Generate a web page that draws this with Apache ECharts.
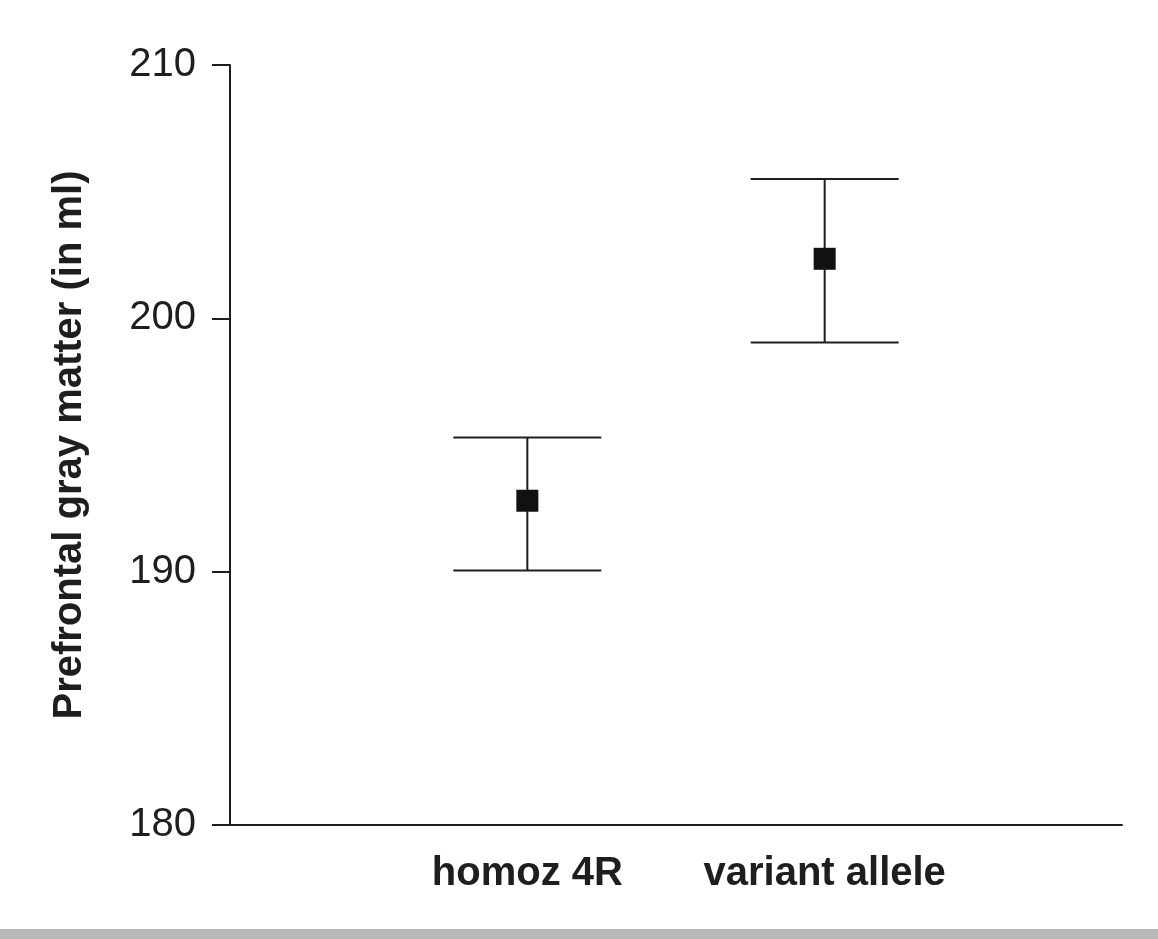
<!DOCTYPE html>
<html>
<head>
<meta charset="utf-8">
<script src="https://cdn.jsdelivr.net/npm/echarts@6/dist/echarts.min.js"></script>
<style>
  html, body { margin: 0; padding: 0; background: #ffffff; }
  #chart { width: 1158px; height: 939px; }
</style>
</head>
<body>
<div id="chart"></div>
<script>
// Group labels and summary statistics (ml)
const categories = ['homoz 4R', 'variant allele'];
const means = [192.8, 202.35];
const upper = [195.3, 205.5];
const lower = [190.05, 199.05];
const yTicks = [180, 190, 200, 210];

const FONT = '"Liberation Sans", Arial, Helvetica, sans-serif';
const INK = '#1e1e1e';

// Padding slots on both sides keep the two groups at 1/3 and 2/3 of the axis
const axisCats = [''].concat(categories, ['']);

const chart = echarts.init(document.getElementById('chart'), null, { renderer: 'canvas' });

const errData = categories.map((c, i) => [c, lower[i], upper[i]]);
const meanData = categories.map((c, i) => [c, means[i]]);

chart.setOption({
  backgroundColor: '#ffffff',
  animation: false,
  grid: { left: 230, right: 36, top: 65, bottom: 114 },
  xAxis: {
    type: 'category',
    data: axisCats,
    boundaryGap: false,
    axisLine: { show: true, lineStyle: { color: INK, width: 2 } },
    axisTick: { show: false },
    axisLabel: {
      interval: 0,
      margin: 29,
      color: INK,
      fontFamily: FONT,
      fontWeight: 'bold',
      fontSize: 40
    },
    splitLine: { show: false }
  },
  yAxis: {
    type: 'value',
    min: yTicks[0],
    max: yTicks[yTicks.length - 1],
    interval: 10,
    name: 'Prefrontal gray matter (in ml)',
    nameLocation: 'middle',
    nameGap: 140,
    nameTextStyle: {
      color: INK,
      fontFamily: FONT,
      fontWeight: 'bold',
      fontSize: 40
    },
    axisLine: { show: true, lineStyle: { color: INK, width: 2 } },
    axisTick: { show: true, inside: false, length: 18, lineStyle: { color: INK, width: 2 } },
    axisLabel: {
      margin: 34,
      color: INK,
      fontFamily: FONT,
      fontSize: 40
    },
    splitLine: { show: false }
  },
  series: [
    {
      type: 'custom',
      name: 'range',
      data: errData,
      renderItem: function (params, api) {
        const x = api.value(0);
        const lo = api.coord([x, api.value(1)]);
        const hi = api.coord([x, api.value(2)]);
        const half = 74;
        const style = { stroke: INK, lineWidth: 2 };
        return {
          type: 'group',
          children: [
            { type: 'line', shape: { x1: lo[0], y1: lo[1], x2: hi[0], y2: hi[1] }, style: style },
            { type: 'line', shape: { x1: hi[0] - half, y1: hi[1], x2: hi[0] + half, y2: hi[1] }, style: style },
            { type: 'line', shape: { x1: lo[0] - half, y1: lo[1], x2: lo[0] + half, y2: lo[1] }, style: style }
          ]
        };
      },
      z: 2
    },
    {
      type: 'scatter',
      name: 'mean',
      data: meanData,
      symbol: 'rect',
      symbolSize: 22,
      itemStyle: { color: '#111111', opacity: 1 },
      z: 3
    }
  ],
  graphic: [
    {
      type: 'rect',
      left: 0,
      top: 929,
      shape: { width: 1158, height: 10 },
      style: { fill: '#b8b8b8' },
      silent: true
    }
  ]
});
</script>
</body>
</html>
